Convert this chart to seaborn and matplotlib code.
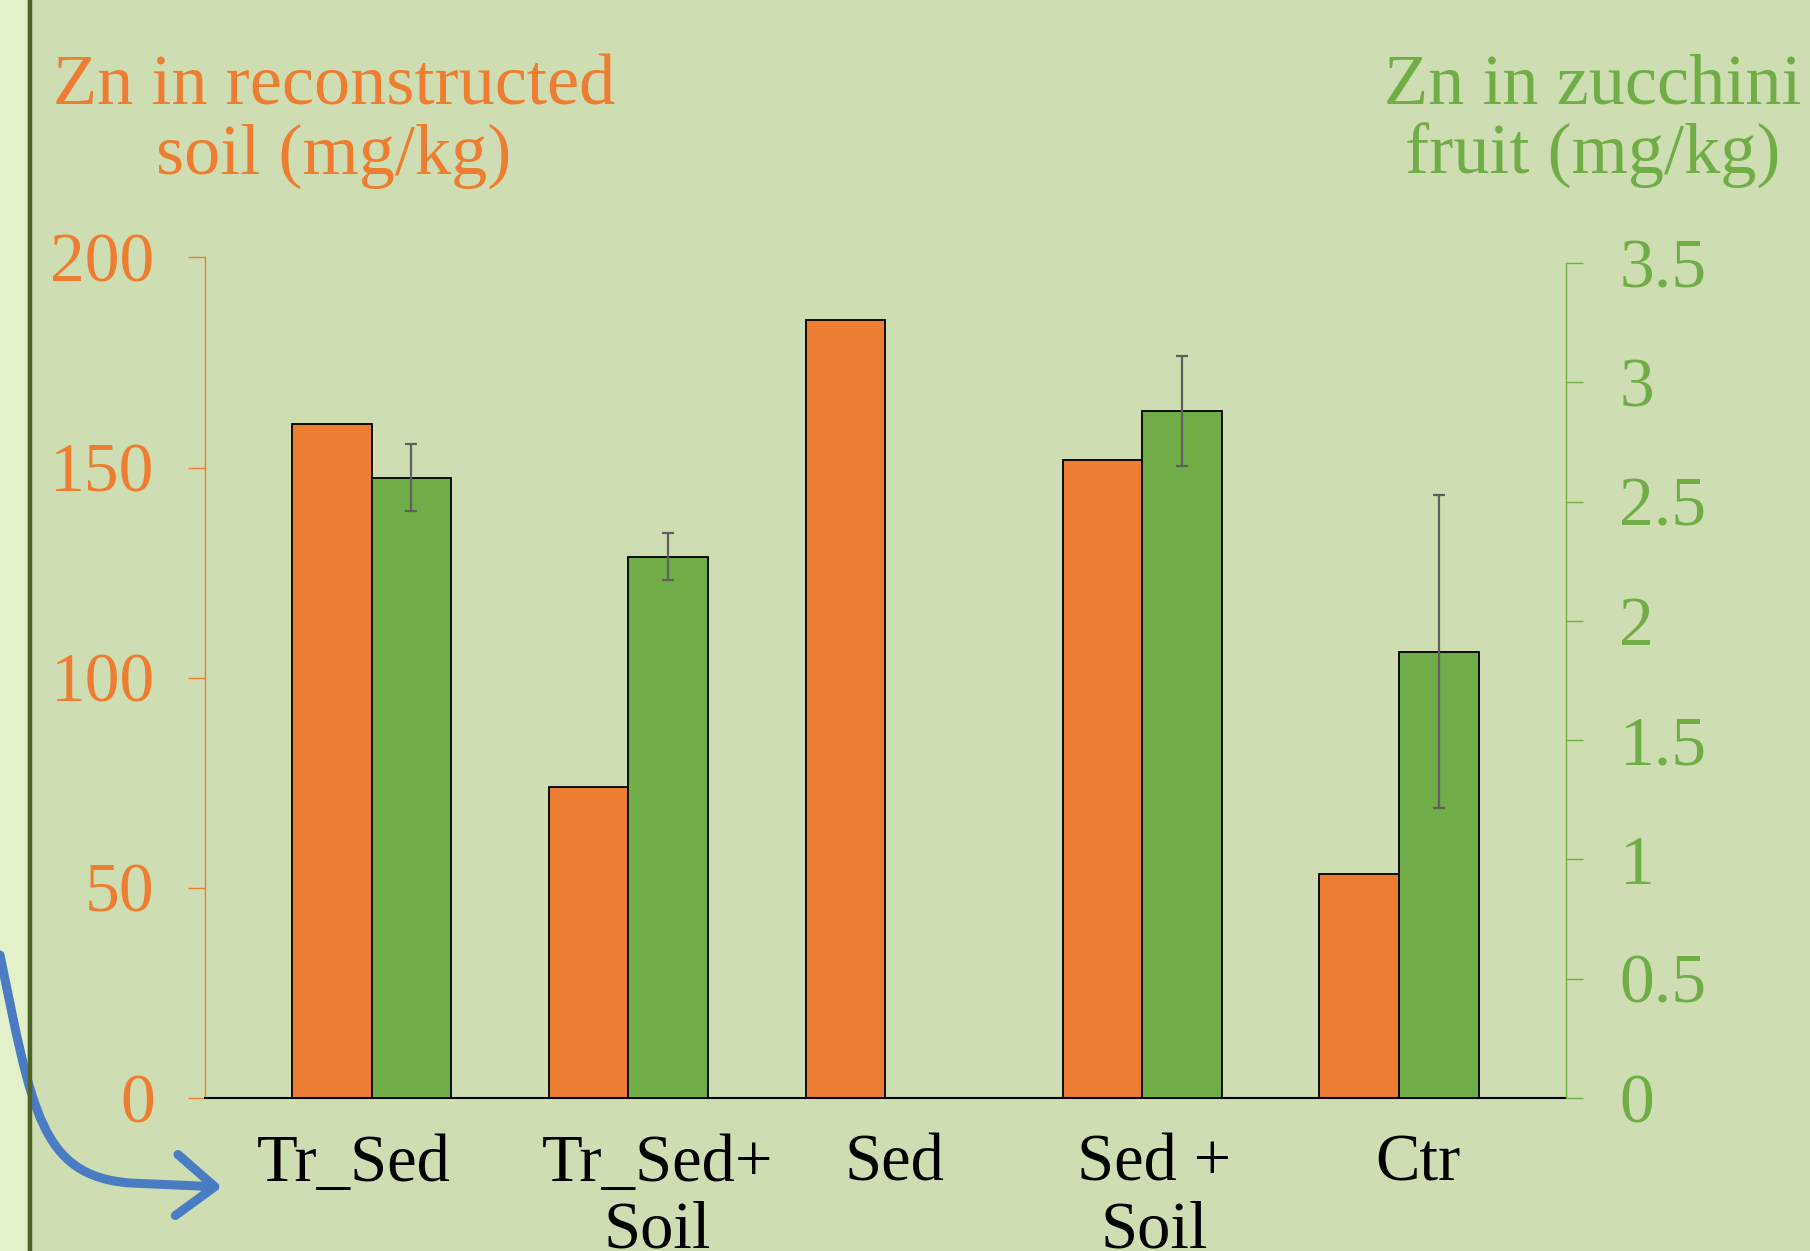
import numpy as np
import pandas as pd
import matplotlib.pyplot as plt
import seaborn as sns
from matplotlib.path import Path
from matplotlib.patches import FancyArrowPatch, Rectangle
from matplotlib.lines import Line2D
from matplotlib.transforms import ScaledTranslation, blended_transform_factory

# data
categories = ["Tr_Sed", "Tr_Sed+\nSoil", "Sed", "Sed +\nSoil", "Ctr"]
soil_zn = [160.4, 73.9, 185.2, 151.9, 53.3]          # mg/kg, left axis
fruit_zn = [2.60, 2.27, np.nan, 2.88, 1.87]          # mg/kg, right axis
fruit_err = [0.14, 0.097, np.nan, 0.23, 0.656]
left_ticks = [0, 50, 100, 150, 200]
right_ticks = [0, 0.5, 1, 1.5, 2, 2.5, 3, 3.5]

ORANGE = "#ED7D31"
GREEN = "#70AD47"
BG = "#CFDEB2"
STRIP = "#E2F1CA"
FONT = "Liberation Serif"


def main():
    sns.set_style("white")
    plt.rcParams["font.family"] = [FONT, "DejaVu Serif"]

    df = pd.DataFrame({
        "cat": categories * 2,
        "series": ["soil"] * 5 + ["fruit"] * 5,
    })
    df["soil_val"] = soil_zn + [np.nan] * 5
    df["fruit_val"] = [np.nan] * 5 + fruit_zn
    pal = {"soil": ORANGE, "fruit": GREEN}

    fig = plt.figure(figsize=(18.10, 12.51), dpi=100, facecolor=BG)
    ax = fig.add_axes([0.1135, 0.1225, 0.7517, 0.6717])
    ax.set_facecolor(BG)
    ax2 = ax.twinx()

    common = dict(hue="series", hue_order=["soil", "fruit"], palette=pal,
                  order=categories, width=0.62, edgecolor="black",
                  linewidth=1.3, saturation=1, errorbar=None, legend=False)
    sns.barplot(data=df, x="cat", y="soil_val", ax=ax, **common)
    sns.barplot(data=df, x="cat", y="fruit_val", ax=ax2, **common)

    # error bars on the green bars, at the centres seaborn gave them
    bars = [p for p in ax2.patches if np.isfinite(p.get_height()) and p.get_height() > 0]
    centres = sorted(p.get_x() + p.get_width() / 2 for p in bars)
    vals = [v for v in fruit_zn if np.isfinite(v)]
    errs = [e for e in fruit_err if np.isfinite(e)]
    ax2.errorbar(centres, vals, yerr=errs, fmt="none", ecolor="#5f5f5f",
                 elinewidth=1.6, capsize=4.3, capthick=1.6, zorder=5)

    ax.set_xlim(-0.647, 4.65)
    ax.set_ylim(0, 200)
    ax2.set_ylim(0, 3.5 * 728 / 723)

    ax.set_yticks(left_ticks)
    ax.set_yticklabels([f"{v:g}" for v in left_ticks])
    ax2.set_yticks(right_ticks)
    ax2.set_yticklabels([f"{v:g}" for v in right_ticks])

    # category names: the slide's text boxes sit a little off the bar groups
    ax.set_xticks(range(len(categories)))
    ax.set_xticklabels([])
    shifts_px = [-18, 29, 9, 12, 19]
    base = blended_transform_factory(ax.transData, ax.transAxes)
    for i, (lab, dx) in enumerate(zip(categories, shifts_px)):
        tr = base + ScaledTranslation(dx / 100, -0.36, fig.dpi_scale_trans)
        ax.text(i, 0, lab, transform=tr, ha="center", va="top",
                fontsize=48, color="black", linespacing=1.12,
                multialignment="center", clip_on=False)

    ax.set_xlabel("")
    ax.set_ylabel("")
    ax2.set_ylabel("")
    ax2.set_xlabel("")

    for s in ["top", "right"]:
        ax.spines[s].set_visible(False)
    for s in ["top", "left", "bottom"]:
        ax2.spines[s].set_visible(False)
    ax.spines["left"].set_color(ORANGE)
    ax.spines["left"].set_linewidth(1.0)
    ax.spines["left"].set_bounds(0, 200)
    ax.spines["bottom"].set_color("black")
    ax.spines["bottom"].set_linewidth(1.5)
    ax2.spines["right"].set_color(GREEN)
    ax2.spines["right"].set_linewidth(1.0)
    ax2.spines["right"].set_bounds(0, 3.5)

    ax.tick_params(axis="y", direction="out", length=12.5, width=1.0,
                   color=ORANGE, labelcolor=ORANGE, labelsize=50, pad=24,
                   left=True)
    ax.tick_params(axis="x", length=0)
    ax2.tick_params(axis="y", direction="out", length=12.5, width=1.0,
                    color=GREEN, labelcolor=GREEN, labelsize=50, pad=26,
                    right=True)
    ax.grid(False)
    ax2.grid(False)

    fig.text(0.1845, 0.903, "Zn in reconstructed\nsoil (mg/kg)", color=ORANGE,
             fontsize=52, ha="center", va="center", multialignment="center",
             linespacing=1.08)
    fig.text(0.880, 0.903, "Zn in zucchini\nfruit (mg/kg)", color=GREEN,
             fontsize=52, ha="center", va="center", multialignment="center",
             linespacing=1.08)

    # slide decoration: light strip with dark rule on the left
    fig.add_artist(Rectangle((0, 0), 27 / 1810, 1, transform=fig.transFigure,
                             facecolor=STRIP, edgecolor="none", zorder=0))
    fig.add_artist(Line2D([29.5 / 1810] * 2, [0, 1], transform=fig.transFigure,
                          color="#4F6228", linewidth=3.2))

    # blue curved arrow pointing at the first category
    W, H = 1810, 1251
    pts = [(0, 955), (32, 1110), (40, 1176), (130, 1183), (222, 1187)]
    verts = [(x / W, 1 - y / H) for x, y in pts]
    path = Path(verts, [Path.MOVETO, Path.CURVE4, Path.CURVE4, Path.CURVE4,
                        Path.LINETO])
    arrow = FancyArrowPatch(path=path, transform=fig.transFigure,
                            arrowstyle="->,head_length=0.5,head_width=0.4",
                            mutation_scale=55, color="#4A7CC4", linewidth=6.5,
                            capstyle="round", joinstyle="round")
    fig.add_artist(arrow)

    fig.savefig("out.png", dpi=100, facecolor=BG)
    plt.close(fig)


if __name__ == "__main__":
    main()
